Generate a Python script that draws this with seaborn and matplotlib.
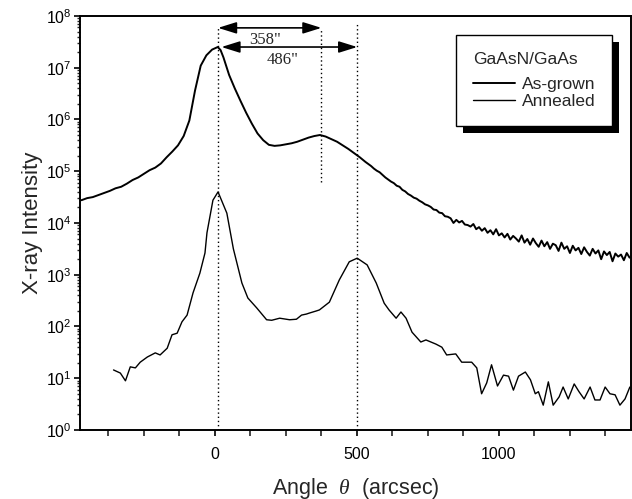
import matplotlib
matplotlib.use("Agg")
import matplotlib.pyplot as plt
from matplotlib.patches import Rectangle
from matplotlib.transforms import IdentityTransform
from matplotlib.ticker import MultipleLocator, FixedLocator, LogLocator
import seaborn as sns
import numpy as np
import pandas as pd

# As-grown curve: angle (arcsec) and log10 of intensity
grown_angle = [-470, -450, -430, -410, -390, -370, -350, -330, -310, -290,
               -270, -250, -230, -210, -190, -170, -150, -130, -110, -90,
               -70, -50, -30, -10, 10, 20, 30, 50, 70, 90, 110,
               130, 150, 170, 190, 210, 230, 250, 270, 290, 310,
               330, 350, 370, 390, 410, 430, 450, 470, 490, 510,
               530, 550,
               560, 570, 580, 590, 600, 610, 620, 630, 640, 650,
               660, 670, 680, 690, 700, 710, 720, 730, 740, 750,
               760, 770, 780, 790, 800, 810, 820, 830, 840, 850,
               860, 870, 880, 890, 900, 910, 920, 930, 940, 950,
               960, 970, 980, 990, 1000, 1010, 1020, 1030, 1040, 1050,
               1060, 1070, 1080, 1090, 1100, 1110, 1120, 1130, 1140, 1150,
               1160, 1170, 1180, 1190, 1200, 1210, 1220, 1230, 1240, 1250,
               1260, 1270, 1280, 1290, 1300, 1310, 1320, 1330, 1340, 1350,
               1360, 1370, 1380, 1390, 1400, 1410, 1420, 1430, 1440, 1450,
               1460]
grown_log = [4.44, 4.48, 4.50, 4.54, 4.58, 4.62, 4.67, 4.70, 4.76, 4.83,
             4.88, 4.95, 5.02, 5.07, 5.15, 5.27, 5.38, 5.50, 5.68, 5.98,
             6.56, 7.04, 7.24, 7.35, 7.40, 7.34, 7.20, 6.86, 6.60, 6.36, 6.13,
             5.92, 5.73, 5.60, 5.51, 5.49, 5.50, 5.52, 5.54, 5.57, 5.61,
             5.65, 5.68, 5.70, 5.67, 5.62, 5.57, 5.50, 5.43, 5.35, 5.27,
             5.18, 5.10,
             5.05, 5.01, 4.98, 4.93, 4.88, 4.84, 4.80, 4.77, 4.72, 4.70,
             4.64, 4.61, 4.56, 4.53, 4.49, 4.47, 4.43, 4.40, 4.36, 4.34,
             4.31, 4.26, 4.25, 4.20, 4.19, 4.13, 4.12, 4.09, 4.00, 4.06,
             4.01, 4.04, 3.97, 3.96, 3.93, 3.98, 3.88, 3.92, 3.85, 3.90,
             3.81, 3.86, 3.78, 3.88, 3.76, 3.80, 3.72, 3.79, 3.68, 3.75,
             3.70, 3.64, 3.76, 3.62, 3.69, 3.58, 3.70, 3.61, 3.54, 3.66,
             3.55, 3.63, 3.50, 3.60, 3.57, 3.46, 3.62, 3.50, 3.55, 3.42,
             3.56, 3.47, 3.52, 3.40, 3.53, 3.44, 3.37, 3.50, 3.41, 3.47,
             3.30, 3.45, 3.38, 3.44, 3.26, 3.41, 3.35, 3.39, 3.28, 3.42,
             3.33]

# Annealed curve
anneal_angle = [-357, -333, -315, -298, -280, -263, -238, -210, -193, -168,
                -151, -133, -116, -98, -77, -53, -35, -28, -7, 11,
                42, 65, 95, 116, 147, 182, 200, 228, 263, 287,
                305, 322, 333, 357, 368, 403, 438, 473, 501, 536,
                568, 596, 613, 638, 655, 673, 694, 725, 743, 778,
                799, 816, 848, 869, 904, 922, 939, 957, 974, 995,
                1016, 1034, 1051, 1069, 1093, 1111, 1128, 1139, 1156, 1174,
                1191, 1212, 1226, 1244, 1265, 1282, 1300, 1321, 1338, 1356,
                1374, 1391, 1409, 1426, 1444, 1461]
anneal_log = [1.16, 1.10, 0.95, 1.22, 1.20, 1.31, 1.41, 1.49, 1.45, 1.58,
              1.84, 1.87, 2.09, 2.22, 2.65, 3.03, 3.42, 3.81, 4.44, 4.60,
              4.19, 3.50, 2.84, 2.55, 2.36, 2.13, 2.12, 2.16, 2.13, 2.14,
              2.22, 2.24, 2.26, 2.30, 2.32, 2.47, 2.90, 3.25, 3.32, 3.19,
              2.84, 2.45, 2.32, 2.16, 2.28, 2.16, 1.89, 1.70, 1.74, 1.66,
              1.60, 1.45, 1.47, 1.31, 1.31, 1.20, 0.70, 0.91, 1.26, 0.85,
              1.06, 1.04, 0.77, 1.04, 1.12, 0.97, 0.70, 0.74, 0.48, 0.93,
              0.48, 0.64, 0.83, 0.60, 0.89, 0.74, 0.60, 0.83, 0.58, 0.58,
              0.83, 0.70, 0.68, 0.48, 0.60, 0.83]

# peak positions used for the splitting markers
peak_substrate = 11
peak_grown = 375
peak_annealed = 501
split_labels = ['358"', '486"']

sns.set_theme(style="ticks")
plt.rcParams.update({
    "font.family": ["Liberation Sans", "DejaVu Sans"],
    "mathtext.fontset": "custom",
    "mathtext.rm": "Liberation Sans",
    "mathtext.it": "Liberation Serif:italic",
    "axes.linewidth": 1.4,
    "xtick.direction": "out",
    "ytick.direction": "out",
    "xtick.major.size": 4,
    "xtick.minor.size": 4,
    "ytick.major.size": 4,
    "ytick.minor.size": 2.5,
    "xtick.major.width": 1.2,
    "xtick.minor.width": 1.2,
    "ytick.major.width": 1.2,
    "ytick.minor.width": 1.0,
})

grown = pd.DataFrame({"angle": grown_angle, "intensity": np.power(10.0, grown_log)})
anneal = pd.DataFrame({"angle": anneal_angle, "intensity": np.power(10.0, anneal_log)})

fig = plt.figure(figsize=(6.32, 4.99), dpi=100)
ax = fig.add_axes([0.1266, 0.1383, 0.8718, 0.8297])

sns.lineplot(data=grown, x="angle", y="intensity", ax=ax, color="black",
             linewidth=1.4, label="As-grown", estimator=None, sort=False)
sns.lineplot(data=anneal, x="angle", y="intensity", ax=ax, color="black",
             linewidth=1.0, label="Annealed", estimator=None, sort=False)

ax.set_yscale("log")
ax.set_ylim(1, 1e8)
ax.set_xlim(-475, 1465)
ax.yaxis.set_major_locator(LogLocator(base=10, numticks=12))
ax.yaxis.set_minor_locator(LogLocator(base=10, subs=np.arange(2, 10), numticks=12))
ax.xaxis.set_major_locator(FixedLocator([0, 500, 1000]))
ax.xaxis.set_minor_locator(MultipleLocator(125))
ax.tick_params(axis="both", which="major", labelsize=11.5, colors="black")
ax.tick_params(axis="x", pad=8)
ax.tick_params(axis="y", pad=2)

ax.set_xlabel(r"Angle  $\theta$  (arcsec)", fontsize=15.5, labelpad=10)
ax.set_ylabel("X-ray Intensity", fontsize=16, labelpad=2)
for s in ax.spines.values():
    s.set_color("black")

# dotted guide lines at the peaks
dots = dict(colors="black", linestyles=(0, (1, 2)), linewidth=1.0)
ax.vlines(peak_substrate, 1, 10 ** 7.77, **dots)
ax.vlines(peak_grown, 10 ** 4.79, 10 ** 7.77, **dots)
ax.vlines(peak_annealed, 1, 10 ** 7.88, **dots)

arrow = dict(arrowstyle="<|-|>,head_length=0.8,head_width=0.25", color="black",
             linewidth=1.2, shrinkA=0, shrinkB=0, mutation_scale=14)
ax.annotate("", xy=(peak_grown, 10 ** 7.77), xytext=(peak_substrate, 10 ** 7.77),
            arrowprops=arrow)
ax.annotate("", xy=(peak_annealed, 10 ** 7.40), xytext=(peak_substrate + 12, 10 ** 7.40),
            arrowprops=arrow)
ax.text(175, 10 ** 7.53, split_labels[0], ha="center", va="center",
        family="Liberation Serif", fontsize=12)
ax.text(238, 10 ** 7.15, split_labels[1], ha="center", va="center",
        family="Liberation Serif", fontsize=12)

leg = ax.legend(title="GaAsN/GaAs", loc="upper right", bbox_to_anchor=(0.9655, 0.954),
                borderaxespad=0, fontsize=12.5, title_fontsize=12.5, frameon=True,
                fancybox=False, framealpha=1, edgecolor="black", handlelength=2.4,
                handletextpad=0.4, labelspacing=0.12, borderpad=0.85, alignment="left")
leg.get_frame().set_linewidth(1.0)
leg._legend_box.sep = 7.5  # extra gap between title and entries
leg._legend_box.pad = 12
leg.set_zorder(6)

# solid black drop shadow behind the legend box
fig.canvas.draw()
bb = leg.get_frame().get_window_extent()
ax.add_patch(Rectangle((bb.x0 + 7, bb.y0 - 7), bb.width, bb.height,
                       transform=IdentityTransform(), facecolor="black",
                       edgecolor="none", zorder=5.5, clip_on=False))

fig.savefig("out.png", dpi=100)
